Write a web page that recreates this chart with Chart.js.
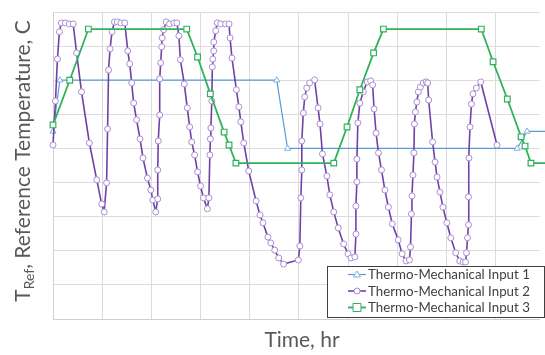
<!DOCTYPE html>
<html>
<head>
<meta charset="utf-8">
<script src="https://cdn.jsdelivr.net/npm/chart.js@4"></script>
<style>
  html, body { margin: 0; padding: 0; background: #fff; }
  #wrap { width: 545px; height: 355px; position: relative; }
</style>
</head>
<body>
<div id="wrap"><canvas id="grafik" width="545" height="355"></canvas></div>
<script>
// Thermo-Mechanical Input 1
const time1 = [0, 0.14, 4.55, 4.77, 9.44, 9.64, 10.2];
const temp1 = [5.5, 7.0, 7.0, 5.0, 5.0, 5.5, 5.5];

// Thermo-Mechanical Input 2
const time2 = [0,0.05,0.09,0.13,0.17,0.25,0.33,0.41,0.48,0.58,
  0.74,0.89,0.99,1.04,1.09,1.11,1.13,1.16,1.20,1.25,
  1.31,1.38,1.46,1.52,1.56,1.60,1.64,1.70,1.77,1.83,
  1.92,1.99,2.03,2.09,2.13,2.13,2.14,2.17,2.17,2.19,
  2.21,2.22,2.25,2.30,2.37,2.46,2.52,2.56,2.59,2.67,
  2.73,2.78,2.82,2.88,2.94,3.00,3.06,3.14,3.17,3.19,
  3.20,3.21,3.23,3.24,3.25,3.27,3.27,3.31,3.34,3.41,
  3.51,3.58,3.60,3.64,3.73,3.78,3.82,3.88,3.98,4.13,
  4.21,4.27,4.37,4.43,4.51,4.59,4.69,4.99,5.02,5.04,
  5.06,5.06,5.09,5.12,5.16,5.22,5.32,5.39,5.43,5.48,
  5.57,5.63,5.71,5.80,5.91,6.00,6.06,6.14,6.16,6.16,
  6.18,6.18,6.20,6.24,6.31,6.39,6.46,6.50,6.53,6.57,
  6.62,6.68,6.75,6.82,6.90,7.02,7.10,7.18,7.25,7.27,
  7.29,7.30,7.32,7.34,7.35,7.37,7.40,7.43,7.47,7.53,
  7.59,7.62,7.64,7.72,7.77,7.81,7.87,7.93,8.01,8.09,
  8.19,8.27,8.34,8.39,8.41,8.43,8.45,8.45,8.46,8.48,
  8.51,8.54,8.61,8.70,9.03];
const temp2 = [5.10,6.39,7.62,8.42,8.68,8.68,8.65,8.65,7.80,6.66,
  5.16,4.08,3.37,3.14,3.99,5.57,7.30,7.92,8.42,8.71,
  8.71,8.68,8.68,7.86,7.48,6.92,6.33,5.84,5.28,4.72,
  4.13,3.78,3.49,3.14,3.52,4.37,5.22,5.98,7.04,7.51,
  7.98,8.24,8.48,8.71,8.65,8.68,8.68,8.30,7.60,6.89,
  6.19,5.63,5.19,4.81,4.31,3.90,3.55,3.23,3.55,4.81,
  5.28,5.60,6.39,7.39,7.62,7.86,8.12,8.45,8.68,8.65,
  8.65,8.65,8.24,7.65,6.72,6.22,5.78,5.16,4.34,3.46,
  3.05,2.82,2.40,2.23,2.02,1.79,1.61,1.73,2.14,3.55,
  4.37,5.22,6.04,6.51,6.77,6.92,7.01,6.19,5.72,4.84,
  4.19,3.64,3.14,2.67,2.20,1.91,1.79,1.82,2.49,3.31,
  4.02,4.69,5.75,6.33,6.66,6.95,6.98,6.86,6.16,5.45,
  4.87,4.37,3.78,3.28,2.79,2.32,1.91,1.70,1.73,2.11,
  3.08,3.61,4.22,4.87,5.72,6.07,6.36,6.66,6.80,6.92,
  6.95,6.92,6.42,5.19,4.60,4.16,3.72,3.28,2.82,2.38,
  1.94,1.70,1.67,1.67,1.94,2.38,2.76,3.58,4.72,5.63,
  6.30,6.60,6.77,6.95,5.10];

// Thermo-Mechanical Input 3
const time3 = [0,0.34,0.72,2.72,2.94,3.20,3.48,3.58,3.72,5.71,5.98,6.24,6.52,6.72,8.71,8.95,9.24,9.52,9.60,9.72,10.2];
const temp3 = [5.69,7.0,8.5,8.5,7.68,6.6,5.48,5.1,4.57,4.57,5.63,6.72,7.8,8.5,8.5,7.54,6.45,5.34,5.07,4.57,4.57];

const seriesNames = ['Thermo-Mechanical Input 1', 'Thermo-Mechanical Input 2', 'Thermo-Mechanical Input 3'];

const toPoints = (xs, ys) => xs.map((x, i) => ({ x: x, y: ys[i] }));

const textColor = '#595959';
const fontFam = 'Lato, "Open Sans", sans-serif';

// axis titles + boxed legend inside the plot
const decorPlugin = {
  id: 'decor',
  afterDraw(chart) {
    const ctx = chart.ctx;
    ctx.save();
    // x title
    ctx.fillStyle = textColor;
    ctx.font = '21px ' + fontFam;
    ctx.textAlign = 'center';
    ctx.textBaseline = 'alphabetic';
    ctx.fillText('Time, hr', 302, 347);

    // y title with subscript
    ctx.translate(30, 161);
    ctx.rotate(-Math.PI / 2);
    const big = '21px ' + fontFam, small = '14px ' + fontFam;
    ctx.font = big;
    const wT = ctx.measureText('T').width;
    const rest = ', Reference Temperature, C';
    const wRest = ctx.measureText(rest).width;
    ctx.font = small;
    const wSub = ctx.measureText('Ref').width;
    let x0 = -(wT + wSub + wRest) / 2;
    ctx.textAlign = 'left';
    ctx.font = big;
    ctx.fillText('T', x0, 0);
    ctx.font = small;
    ctx.fillText('Ref', x0 + wT, 4);
    ctx.font = big;
    ctx.fillText(rest, x0 + wT + wSub, 0);
    ctx.restore();

    // legend
    ctx.save();
    const bx = 327.5, by = 266.5, bw = 217, bh = 51;
    ctx.fillStyle = '#fff';
    ctx.fillRect(bx, by, bw, bh);
    ctx.strokeStyle = '#404040';
    ctx.lineWidth = 1;
    ctx.strokeRect(bx, by, bw, bh);
    ctx.font = '13.3px ' + fontFam;
    ctx.textBaseline = 'middle';
    chart.data.datasets.forEach((ds, i) => {
      const y = 274.5 + i * 16.5;
      ctx.strokeStyle = ds.borderColor;
      ctx.lineWidth = ds.borderWidth;
      ctx.beginPath();
      ctx.moveTo(348, y);
      ctx.lineTo(366, y);
      ctx.stroke();
      ctx.fillStyle = '#fff';
      ctx.strokeStyle = ds.pointBorderColor;
      ctx.lineWidth = 1;
      ctx.beginPath();
      const r = ds.pointRadius;
      if (ds.pointStyle === 'circle') {
        ctx.arc(357, y, r, 0, Math.PI * 2);
      } else if (ds.pointStyle === 'rect') {
        ctx.rect(357 - r, y - r, 2 * r, 2 * r);
      } else {
        ctx.moveTo(357, y - r);
        ctx.lineTo(357 + r, y + r * 0.7);
        ctx.lineTo(357 - r, y + r * 0.7);
        ctx.closePath();
      }
      ctx.fill();
      ctx.stroke();
      ctx.fillStyle = '#404040';
      ctx.fillText(seriesNames[i], 368, y + 0.5);
    });
    ctx.restore();
  }
};

const ctx = document.getElementById('grafik').getContext('2d');
new Chart(ctx, {
  type: 'line',
  data: {
    datasets: [{
      label: seriesNames[0],
      data: toPoints(time1, temp1),
      borderColor: '#5b9bd5',
      borderWidth: 1.2,
      pointStyle: 'triangle',
      pointRadius: 3.5,
      pointBackgroundColor: '#fff',
      pointBorderColor: '#7fb0e0',
      pointBorderWidth: 1,
      clip: false,
      order: 3
    }, {
      label: seriesNames[1],
      data: toPoints(time2, temp2),
      borderColor: '#7040a8',
      borderWidth: 1.6,
      pointStyle: 'circle',
      pointRadius: 3,
      pointBackgroundColor: '#fff',
      pointBorderColor: '#a890d4',
      pointBorderWidth: 1,
      clip: false,
      order: 2
    }, {
      label: seriesNames[2],
      data: toPoints(time3, temp3),
      borderColor: '#2fb25c',
      borderWidth: 1.8,
      pointStyle: 'rect',
      pointRadius: 4,
      pointBackgroundColor: '#fff',
      pointBorderColor: '#2fb25c',
      pointBorderWidth: 1.2,
      clip: false,
      order: 1
    }]
  },
  options: {
    responsive: false,
    animation: false,
    layout: { padding: { left: 53, top: 12, right: 0, bottom: 36 } },
    plugins: {
      legend: { display: false },
      tooltip: { enabled: false }
    },
    elements: { line: { tension: 0 } },
    scales: {
      x: {
        type: 'linear',
        min: 0,
        max: 9.9,
        ticks: { display: false, stepSize: 1, includeBounds: false },
        grid: { color: '#dcdcdc', drawTicks: false, lineWidth: 1 },
        border: { color: '#d0d0d0' }
      },
      y: {
        min: 0,
        max: 9,
        ticks: { display: false, stepSize: 1 },
        grid: { color: '#dcdcdc', drawTicks: false, lineWidth: 1 },
        border: { color: '#d0d0d0' }
      }
    }
  },
  plugins: [decorPlugin]
});
</script>
</body>
</html>
